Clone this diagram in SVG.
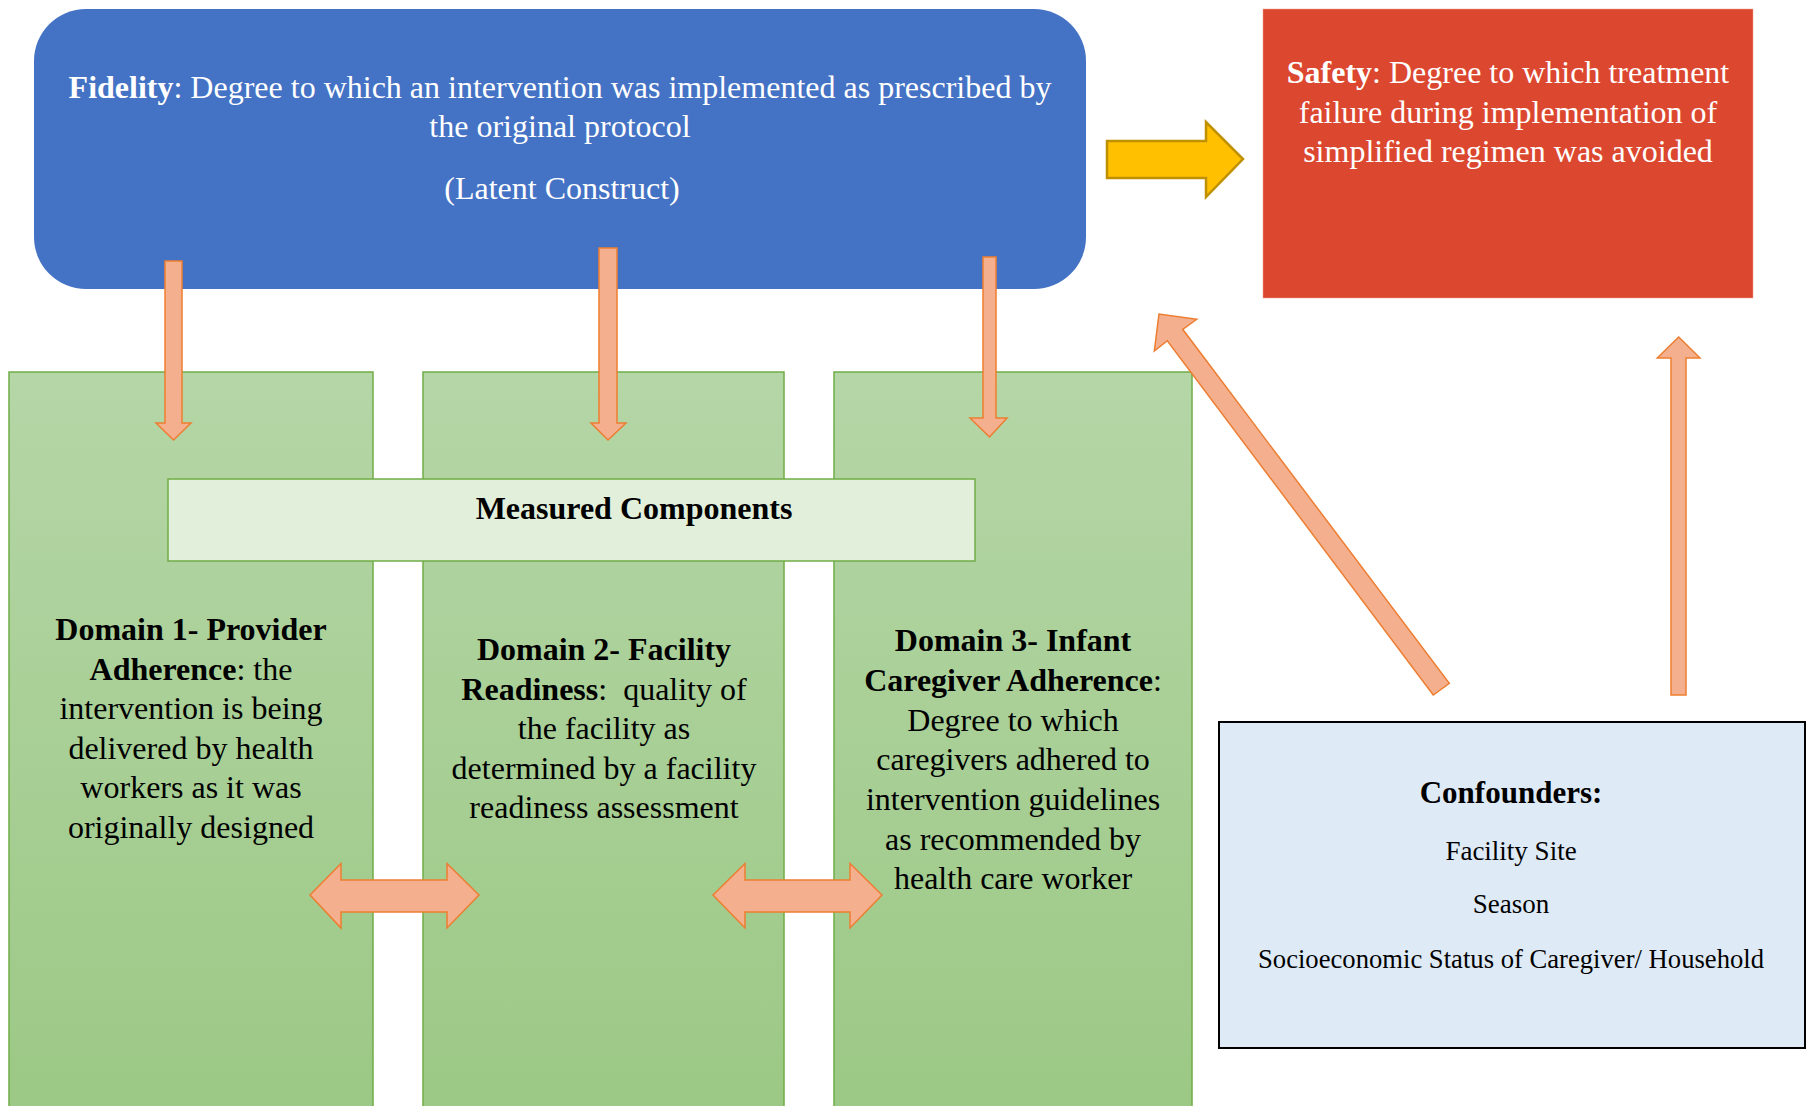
<svg xmlns="http://www.w3.org/2000/svg" width="1807" height="1106" viewBox="0 0 1807 1106">
  <defs>
    <linearGradient id="greenGrad" x1="0" y1="0" x2="0" y2="1">
      <stop offset="0" stop-color="#B5D6A7"/>
      <stop offset="1" stop-color="#9BC884"/>
    </linearGradient>
    <style>
      .serif { font-family: "Liberation Serif", "Times New Roman", serif; }
      .t32 { font-size: 32px; }
      .white { fill: #FFFFFF; }
      .black { fill: #000000; }
      .b { font-weight: bold; }
      .col { fill: url(#greenGrad); stroke: #70AD47; stroke-width: 1.5; }
      .arr { fill: #F4B08E; stroke: #ED7D31; stroke-width: 1.5; stroke-linejoin: miter; }
    </style>
  </defs>
  <rect width="1807" height="1106" fill="#FFFFFF"/>

  <g id="fidelity">
    <rect x="34" y="9" width="1052" height="280" rx="52" ry="52" fill="#4472C4"/>
    <text class="serif t32 white" text-anchor="middle" x="560" y="98"><tspan class="b">Fidelity</tspan>: Degree to which an intervention was implemented as prescribed by</text>
    <text class="serif t32 white" text-anchor="middle" x="560" y="137">the original protocol</text>
    <text class="serif t32 white" text-anchor="middle" x="562" y="199">(Latent Construct)</text>
  </g>

  <g id="safety">
    <rect x="1263" y="9" width="490" height="289" fill="#DC472F" stroke="#F2A090" stroke-width="0.5"/>
    <text class="serif t32 white" text-anchor="middle" x="1508" y="83"><tspan class="b">Safety</tspan>: Degree to which treatment</text>
    <text class="serif t32 white" text-anchor="middle" x="1508" y="123">failure during implementation of</text>
    <text class="serif t32 white" text-anchor="middle" x="1508" y="162">simplified regimen was avoided</text>
  </g>

  <g id="domain1">
    <rect class="col" x="9" y="372" width="364" height="760"/>
  </g>
  <g id="domain2">
    <rect class="col" x="423" y="372" width="361" height="760"/>
  </g>
  <g id="domain3">
    <rect class="col" x="834" y="372" width="358" height="760"/>
  </g>

  <g id="measured-components">
    <rect x="168" y="479" width="807" height="82" fill="#E2EFDA" stroke="#70AD47" stroke-width="1.5"/>
    <text class="serif t32 black b" text-anchor="middle" x="634" y="519">Measured Components</text>
  </g>

  <g id="domain1-text" class="serif t32 black" text-anchor="middle">
    <text x="191" y="640"><tspan class="b">Domain 1- Provider</tspan></text>
    <text x="191" y="680"><tspan class="b">Adherence</tspan>: the</text>
    <text x="191" y="719">intervention is being</text>
    <text x="191" y="759">delivered by health</text>
    <text x="191" y="798">workers as it was</text>
    <text x="191" y="838">originally designed</text>
  </g>

  <g id="domain2-text" class="serif t32 black" text-anchor="middle">
    <text x="604" y="660"><tspan class="b">Domain 2- Facility</tspan></text>
    <text x="604" y="700" xml:space="preserve"><tspan class="b">Readiness</tspan>:  quality of</text>
    <text x="604" y="739">the facility as</text>
    <text x="604" y="779">determined by a facility</text>
    <text x="604" y="818">readiness assessment</text>
  </g>

  <g id="domain3-text" class="serif t32 black" text-anchor="middle">
    <text x="1013" y="651"><tspan class="b">Domain 3- Infant</tspan></text>
    <text x="1013" y="691"><tspan class="b">Caregiver Adherence</tspan>:</text>
    <text x="1013" y="731">Degree to which</text>
    <text x="1013" y="770">caregivers adhered to</text>
    <text x="1013" y="810">intervention guidelines</text>
    <text x="1013" y="850">as recommended by</text>
    <text x="1013" y="889">health care worker</text>
  </g>

  <g id="confounders">
    <rect x="1219" y="722" width="586" height="326" fill="#DEEAF6" stroke="#000000" stroke-width="2"/>
    <text class="serif black b" font-size="31" text-anchor="middle" x="1511" y="803">Confounders:</text>
    <text class="serif black" font-size="27" text-anchor="middle" x="1511" y="860">Facility Site</text>
    <text class="serif black" font-size="27" text-anchor="middle" x="1511" y="913">Season</text>
    <text class="serif black" font-size="27" text-anchor="middle" x="1511" y="968" textLength="506" lengthAdjust="spacingAndGlyphs">Socioeconomic Status of Caregiver/ Household</text>
  </g>

  <g id="connectors">
    <!-- Fidelity to Safety -->
    <polygon points="1107,141 1206,141 1206,122 1243,159 1206,197 1206,178 1107,178" fill="#FFC000" stroke="#BF9000" stroke-width="2.5"/>
    <!-- Fidelity down to domains -->
    <polygon class="arr" points="165,261 182,261 182,423 191,423 173.5,440 156,423 165,423"/>
    <polygon class="arr" points="599,248 617,248 617,423 626,423 608,440 591,423 599,423"/>
    <polygon class="arr" points="983,257 996,257 996,418 1007,418 989.5,437 970,418 983,418"/>
    <!-- domain double arrows -->
    <polygon class="arr" points="310,895 341,863.5 341,880 447,880 447,863.5 479,895 447,928 447,912 341,912 341,928"/>
    <polygon class="arr" points="713,895 745,863.5 745,880 850,880 850,863.5 882,895 850,928 850,912 745,912 745,928"/>
    <!-- confounders to fidelity/domains -->
    <polygon class="arr" points="1433.3,695 1167.3,340.7 1154.3,351 1159,314 1196.7,319.3 1182.7,329.3 1449.3,683.3"/>
    <!-- confounders to safety -->
    <polygon class="arr" points="1671,695 1671,358 1657.3,358 1678.7,337 1700,358 1686,358 1686,695"/>
  </g>
</svg>
